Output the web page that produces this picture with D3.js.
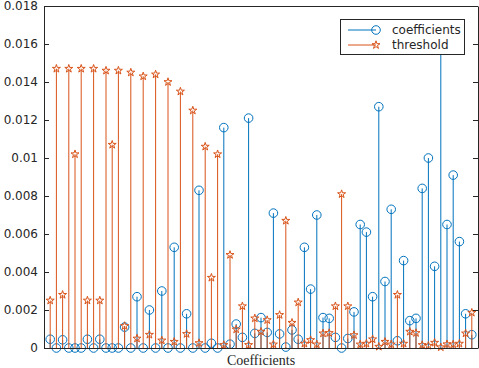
<!DOCTYPE html>
<html>
<head>
<meta charset="utf-8">
<script src="https://cdn.jsdelivr.net/npm/d3@7"></script>
<style>
  body { margin: 0; background: #fff; }
  svg { display: block; }
</style>
</head>
<body>
<script>
// values, one per stem (index 1..69)
var coefficients = [
  0.00046, 0, 0.00043, 0, 0, 0, 0.00046, 0, 0.00046, 0,
  0, 0, 0.0011, 0, 0.0027, 0, 0.0020, 0, 0.0030, 0,
  0.0053, 0, 0.0018, 0, 0.0083, 0, 0.00025, 0, 0.0116, 0.0002,
  0.00126, 0.00056, 0.0121, 0.00077, 0.0016, 0.00082, 0.0071, 0.00074, 0.00005, 0.00095,
  0.00046, 0.0053, 0.0031, 0.0070, 0.0016, 0.00156, 0.00056, 0, 0.0005, 0.0019,
  0.0065, 0.0061, 0.0027, 0.0127, 0.0035, 0.0073, 0.00038, 0.0046, 0.00144, 0.00156,
  0.0084, 0.0100, 0.0043, 0.0163, 0.0065, 0.0091, 0.0056, 0.0018, 0.0007
];
var threshold = [
  0.0025, 0.0147, 0.0028, 0.0147, 0.0102, 0.0147, 0.0025, 0.0147, 0.0025, 0.0146,
  0.0107, 0.0146, 0.00116, 0.0145, 0.0005, 0.0143, 0.0007, 0.0144, 0.0004, 0.0140,
  0.00033, 0.0135, 0.00074, 0.0125, 0.00026, 0.0106, 0.0037, 0.0102, 0.00016, 0.0049,
  0.00098, 0.0022, 0.00016, 0.00156, 0.00086, 0.00147, 0.00019, 0.00174, 0.0067, 0.00133,
  0.0024, 0.00023, 0.00042, 0.00019, 0.00077, 0.00079, 0.0022, 0.0081, 0.0022, 0.00068,
  0.00019, 0.00023, 0.00046, 0.00007, 0.00033, 0.00019, 0.0028, 0.00023, 0.00086, 0.00079,
  0.00016, 0.00012, 0.00028, 0.00004, 0.0002, 0.00019, 0.00023, 0.00077, 0.00186
];
var yTicks = [0, 0.002, 0.004, 0.006, 0.008, 0.01, 0.012, 0.014, 0.016, 0.018];
var yTickLabels = ["0", "0.002", "0.004", "0.006", "0.008", "0.01", "0.012", "0.014", "0.016", "0.018"];
var seriesNames = ["coefficients", "threshold"];

var blue = "#0072BD", orange = "#D95319", axisColor = "#262626";

// set the dimensions and margins of the graph
var margin = {top: 6, right: 1, bottom: 20, left: 44},
    width = 479 - margin.left - margin.right,
    height = 368 - margin.top - margin.bottom;

var x = d3.scaleLinear().domain([0, coefficients.length + 1]).range([0, width]);
var y = d3.scaleLinear().domain([0, 0.018]).range([height, 0]);

var svg = d3.select("body")
            .append("svg")
            .attr("width", 479)
            .attr("height", 368)
            .append("g")
            .attr("transform", "translate(" + margin.left + "," + margin.top + ")");

var data = coefficients.map(function(c, i) {
    return {i: i + 1, coef: c, thr: threshold[i]};
});

// stems + markers, coefficients first then threshold on top
function drawSeries(key, color, symbol) {
    var g = svg.append("g");
    g.selectAll("line")
        .data(data)
        .enter()
        .append("line")
          .attr("x1", function(d) { return x(d.i); })
          .attr("x2", function(d) { return x(d.i); })
          .attr("y1", y(0))
          .attr("y2", function(d) { return y(d[key]); })
          .attr("stroke", color)
          .attr("stroke-width", 1);
    g.selectAll("path")
        .data(data)
        .enter()
        .append("path")
          .attr("d", symbol)
          .attr("transform", function(d) { return "translate(" + x(d.i) + "," + y(d[key]) + ")"; })
          .attr("fill", "none")
          .attr("stroke", color)
          .attr("stroke-width", 1);
}

var circleSym = d3.symbol().type(d3.symbolCircle).size(58)();
var starSym = d3.symbol().type(d3.symbolStar).size(20)();

drawSeries("coef", blue, circleSym);
drawSeries("thr", orange, starSym);

// axes box
var yAxis = svg.append("g")
    .call(d3.axisLeft(y)
        .tickValues(yTicks)
        .tickFormat(function(d, i) { return yTickLabels[i]; })
        .tickSizeInner(-5)
        .tickSizeOuter(0)
        .tickPadding(6));
yAxis.selectAll("text")
    .style("font-family", "DejaVu Sans")
    .style("font-size", "12px")
    .attr("fill", axisColor);

svg.append("g")
    .attr("transform", "translate(" + width + ",0)")
    .call(d3.axisRight(y)
        .tickValues(yTicks)
        .tickFormat("")
        .tickSizeInner(-5)
        .tickSizeOuter(0));

svg.selectAll(".domain, .tick line").attr("stroke", axisColor);

svg.append("line")
    .attr("x1", 0).attr("x2", width)
    .attr("y1", 0.5).attr("y2", 0.5)
    .attr("stroke", axisColor);
svg.append("line")
    .attr("x1", 0).attr("x2", width)
    .attr("y1", height + 0.5).attr("y2", height + 0.5)
    .attr("stroke", axisColor);

// text label for the x axis
svg.append("text")
    .attr("x", width / 2)
    .attr("y", height + 17)
    .style("text-anchor", "middle")
    .style("font-family", "Liberation Serif")
    .style("font-size", "14px")
    .attr("fill", axisColor)
    .text("Coefficients");

// legend
var legend = svg.append("g")
    .attr("transform", "translate(" + (296) + "," + 13 + ")");
legend.append("rect")
    .attr("x", 0.5).attr("y", 0.5)
    .attr("width", 124).attr("height", 35)
    .attr("fill", "#fff")
    .attr("stroke", axisColor);

[blue, orange].forEach(function(color, k) {
    var row = legend.append("g").attr("transform", "translate(0," + (11 + k * 15) + ")");
    row.append("line")
        .attr("x1", 8).attr("x2", 36)
        .attr("stroke", color);
    row.append("path")
        .attr("d", k === 0 ? circleSym : starSym)
        .attr("transform", "translate(36,0)")
        .attr("fill", "none")
        .attr("stroke", color);
    row.append("text")
        .attr("x", 52)
        .attr("dy", "0.35em")
        .style("font-family", "DejaVu Sans")
        .style("font-size", "12px")
        .attr("fill", axisColor)
        .text(seriesNames[k]);
});
</script>
</body>
</html>
